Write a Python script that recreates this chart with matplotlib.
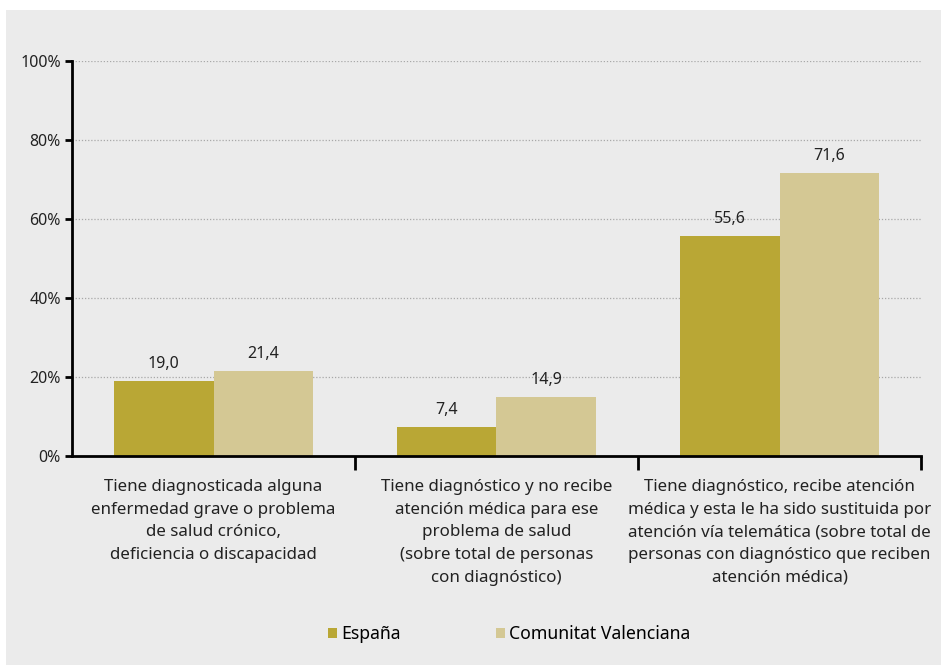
import matplotlib
matplotlib.use('Agg')
from matplotlib import pyplot as plt
from matplotlib.patches import Rectangle
import numpy as np

plt.rcParams['font.family'] = ['Noto Sans', 'DejaVu Sans']

categories = [
    'Tiene diagnosticada alguna\nenfermedad grave o problema\nde salud crónico,\ndeficiencia o discapacidad',
    'Tiene diagnóstico y no recibe\natención médica para ese\nproblema de salud\n(sobre total de personas\ncon diagnóstico)',
    'Tiene diagnóstico, recibe atención\nmédica y esta le ha sido sustituida por\natención vía telemática (sobre total de\npersonas con diagnóstico que reciben\natención médica)',
]
espana = [19.0, 7.4, 55.6]
cvalenciana = [21.4, 14.9, 71.6]
series_names = ['España', 'Comunitat Valenciana']
colors = ['#b9a735', '#d4c894']
yticks = [0, 20, 40, 60, 80, 100]

W, H = 941, 667
fig = plt.figure(figsize=(W / 100, H / 100), dpi=100)
fig.patch.set_facecolor('white')
# grey panel behind everything
fig.patches.append(Rectangle((6 / W, 2 / H), 1 - 6 / W, 1 - 12 / H,
                             transform=fig.transFigure, facecolor='#ebebeb',
                             edgecolor='none', zorder=-5))

ax = fig.add_axes([72 / W, 1 - 456 / H, (921 - 72) / W, (456 - 61) / H])
ax.set_facecolor('none')

x = np.arange(len(categories))
w = 0.352
b1 = ax.bar(x - w / 2, espana, w, color=colors[0], zorder=2)
b2 = ax.bar(x + w / 2, cvalenciana, w, color=colors[1], zorder=2)

for bars, vals in ((b1, espana), (b2, cvalenciana)):
    for r, v in zip(bars, vals):
        ax.text(r.get_x() + r.get_width() / 2, v + 2.3, f'{v:.1f}'.replace('.', ','),
                ha='center', va='bottom', fontsize=11.5, color='#222222')

ax.set_xlim(-0.5, 2.5)
ax.set_ylim(0, 100)
ax.set_yticks(yticks)
ax.set_yticklabels([f'{t}%' for t in yticks], fontsize=11.5, color='#222222')
for t in yticks[1:]:
    ax.axhline(t, color='#a8a8a8', lw=0.9, ls=(0, (1, 1.5)), zorder=1)

ax.set_xticks([0.5, 1.5, 2.5])
ax.set_xticklabels([])
ax.tick_params(axis='x', length=10, width=2, color='black', direction='out')
ax.tick_params(axis='y', length=5, width=2, color='black', direction='out', pad=3)

for i, c in enumerate(categories):
    ax.text(i, -5.8, c, ha='center', va='top', fontsize=12.2, color='#222222',
            linespacing=1.56, transform=ax.transData)

for s in ['top', 'right']:
    ax.spines[s].set_visible(False)
ax.spines['left'].set_linewidth(2)
ax.spines['bottom'].set_linewidth(2)

leg = fig.legend([b1, b2], series_names, loc='center left',
                 bbox_to_anchor=(312 / W, 1 - 634 / H),
                 ncol=2, frameon=False, fontsize=12.7, handlelength=0.5, handleheight=0.5,
                 handletextpad=0.25, columnspacing=5.4)

fig.savefig('out.png', dpi=100)
